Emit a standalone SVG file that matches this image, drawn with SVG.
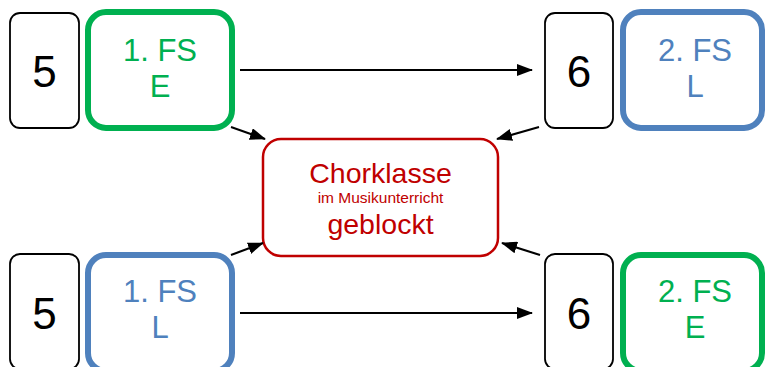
<svg xmlns="http://www.w3.org/2000/svg" width="765" height="367" viewBox="0 0 765 367">
<style>
.num{fill:#fff;stroke:#000;stroke-width:1.8}
.g{fill:#fff;stroke:#00b050;stroke-width:6}
.b{fill:#fff;stroke:#4f81bd;stroke-width:6}
.t{font-family:"Liberation Sans",Arial,sans-serif;text-anchor:middle}
.n{font-size:44px;fill:#000}
.l{font-size:31px}
.gt{fill:#00b050}
.bt{fill:#4f81bd}
.rt{fill:#c00000}
.c{stroke:#000;stroke-width:2;fill:none;marker-end:url(#ah)}
</style>
<defs>
<marker id="ah" markerUnits="userSpaceOnUse" markerWidth="16" markerHeight="12" refX="15" refY="6" orient="auto">
<path d="M0,0 L16,6 L0,12 Z" fill="#000"/>
</marker>
</defs>
<g id="n5top">
<rect class="num" x="10" y="13" width="69" height="115" rx="10"/>
<text class="t n" x="44.5" y="87">5</text>
</g>
<g id="fs1e">
<rect class="g" x="88" y="12" width="144" height="116" rx="18"/>
<text class="t l gt" x="160" y="61">1. FS</text>
<text class="t l gt" x="160" y="97">E</text>
</g>
<g id="n6top">
<rect class="num" x="545" y="13" width="68" height="115" rx="10"/>
<text class="t n" x="579" y="87">6</text>
</g>
<g id="fs2l">
<rect class="b" x="623" y="12" width="139" height="116" rx="18"/>
<text class="t l bt" x="695" y="61">2. FS</text>
<text class="t l bt" x="695" y="97">L</text>
</g>
<g id="chor">
<rect x="263" y="139" width="235" height="117" rx="18" fill="#fff" stroke="#c00000" stroke-width="2.5"/>
<text class="t rt" x="380.5" y="183" font-size="28.5">Chorklasse</text>
<text class="t rt" x="380.5" y="203" font-size="15.5">im Musikunterricht</text>
<text class="t rt" x="380.5" y="234" font-size="28.5">geblockt</text>
</g>
<g id="n5bot">
<rect class="num" x="10" y="254" width="69" height="115" rx="10"/>
<text class="t n" x="44.5" y="329">5</text>
</g>
<g id="fs1l">
<rect class="b" x="88" y="255" width="144" height="116" rx="18"/>
<text class="t l bt" x="160" y="302">1. FS</text>
<text class="t l bt" x="160" y="338">L</text>
</g>
<g id="n6bot">
<rect class="num" x="545" y="254" width="68" height="115" rx="10"/>
<text class="t n" x="579" y="329">6</text>
</g>
<g id="fs2e">
<rect class="g" x="623" y="255" width="139" height="116" rx="18"/>
<text class="t l gt" x="695" y="302">2. FS</text>
<text class="t l gt" x="695" y="338">E</text>
</g>
<g id="connectors">
<line class="c" x1="240" y1="70" x2="532" y2="70"/>
<line class="c" x1="240" y1="313" x2="532" y2="313"/>
<line class="c" x1="231" y1="127" x2="265" y2="139"/>
<line class="c" x1="539" y1="127" x2="497" y2="139"/>
<line class="c" x1="231" y1="255" x2="263" y2="243"/>
<line class="c" x1="540" y1="255" x2="502" y2="243"/>
</g>
</svg>
